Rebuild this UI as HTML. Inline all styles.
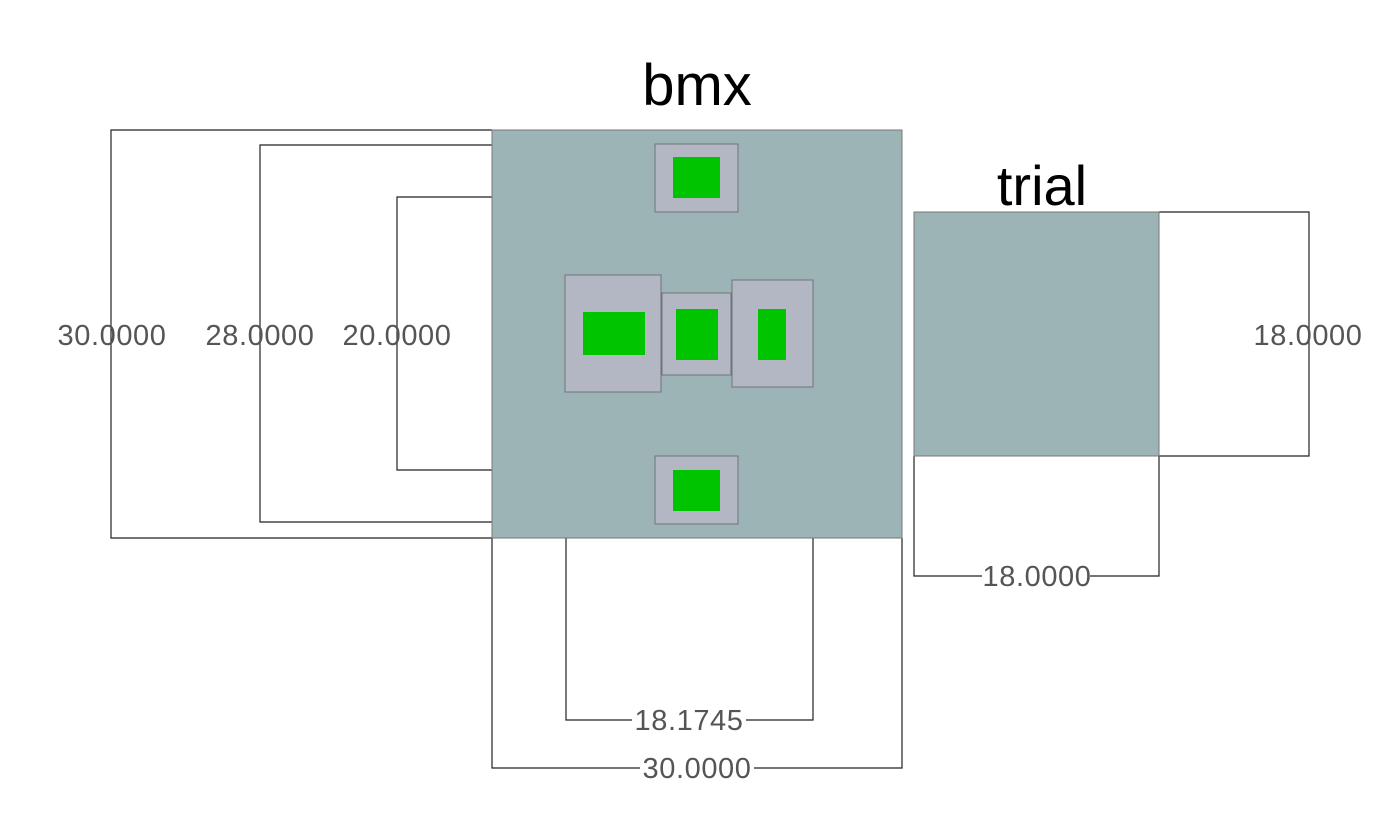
<!DOCTYPE html>
<html><head><meta charset="utf-8"><style>
html,body{margin:0;padding:0;background:#fff;width:1390px;height:834px;overflow:hidden}
</style></head><body>
<svg width="1390" height="834" xmlns="http://www.w3.org/2000/svg">
<g stroke="#222" stroke-width="1.2" fill="none">
<polyline points="492,130 111,130 111,538 492,538"/>
<polyline points="492,145 260,145 260,522 492,522"/>
<polyline points="492,197 397,197 397,470 492,470"/>
<polyline points="566,538 566,720 813,720 813,538"/>
<polyline points="492,538 492,768 902,768 902,538"/>
<polyline points="914,456 914,576 1159,576 1159,456"/>
<polyline points="1159,212 1309,212 1309,456 1159,456"/>
</g>
<rect x="492" y="130" width="410" height="408" fill="#9cb4b5" stroke="#777" stroke-width="1"/>
<rect x="914" y="212" width="245" height="244" fill="#9cb4b5" stroke="#777" stroke-width="1"/>
<g fill="#b2b7c3" stroke="#6e7378" stroke-width="1">
<rect x="655" y="144" width="83" height="68"/>
<rect x="565" y="275" width="96" height="117"/>
<rect x="662" y="293" width="69" height="82"/>
<rect x="732" y="280" width="81" height="107"/>
<rect x="655" y="456" width="83" height="68"/>
</g>
<g fill="#00c400">
<rect x="673" y="157" width="47" height="41"/>
<rect x="583" y="312" width="62" height="43"/>
<rect x="676" y="309" width="42" height="51"/>
<rect x="758" y="309" width="28" height="51"/>
<rect x="673" y="470" width="47" height="41"/>
</g>
<g fill="#fff">
<rect x="632" y="706" width="114" height="28"/>
<rect x="640" y="754" width="114" height="28"/>
<rect x="982" y="562" width="108" height="28"/>
</g>
<g font-family="Liberation Sans, sans-serif" font-size="29" fill="#555" text-anchor="middle" letter-spacing="0.6">
<text x="112" y="345">30.0000</text>
<text x="260" y="345">28.0000</text>
<text x="397" y="345">20.0000</text>
<text x="1308" y="345">18.0000</text>
<text x="689" y="730">18.1745</text>
<text x="697" y="778">30.0000</text>
<text x="1037" y="586">18.0000</text>
</g>
<g font-family="Liberation Sans, sans-serif" fill="#000" text-anchor="middle">
<text x="697" y="105" font-size="58">bmx</text>
<text x="1042" y="205" font-size="56">trial</text>
</g>
</svg>
</body></html>
